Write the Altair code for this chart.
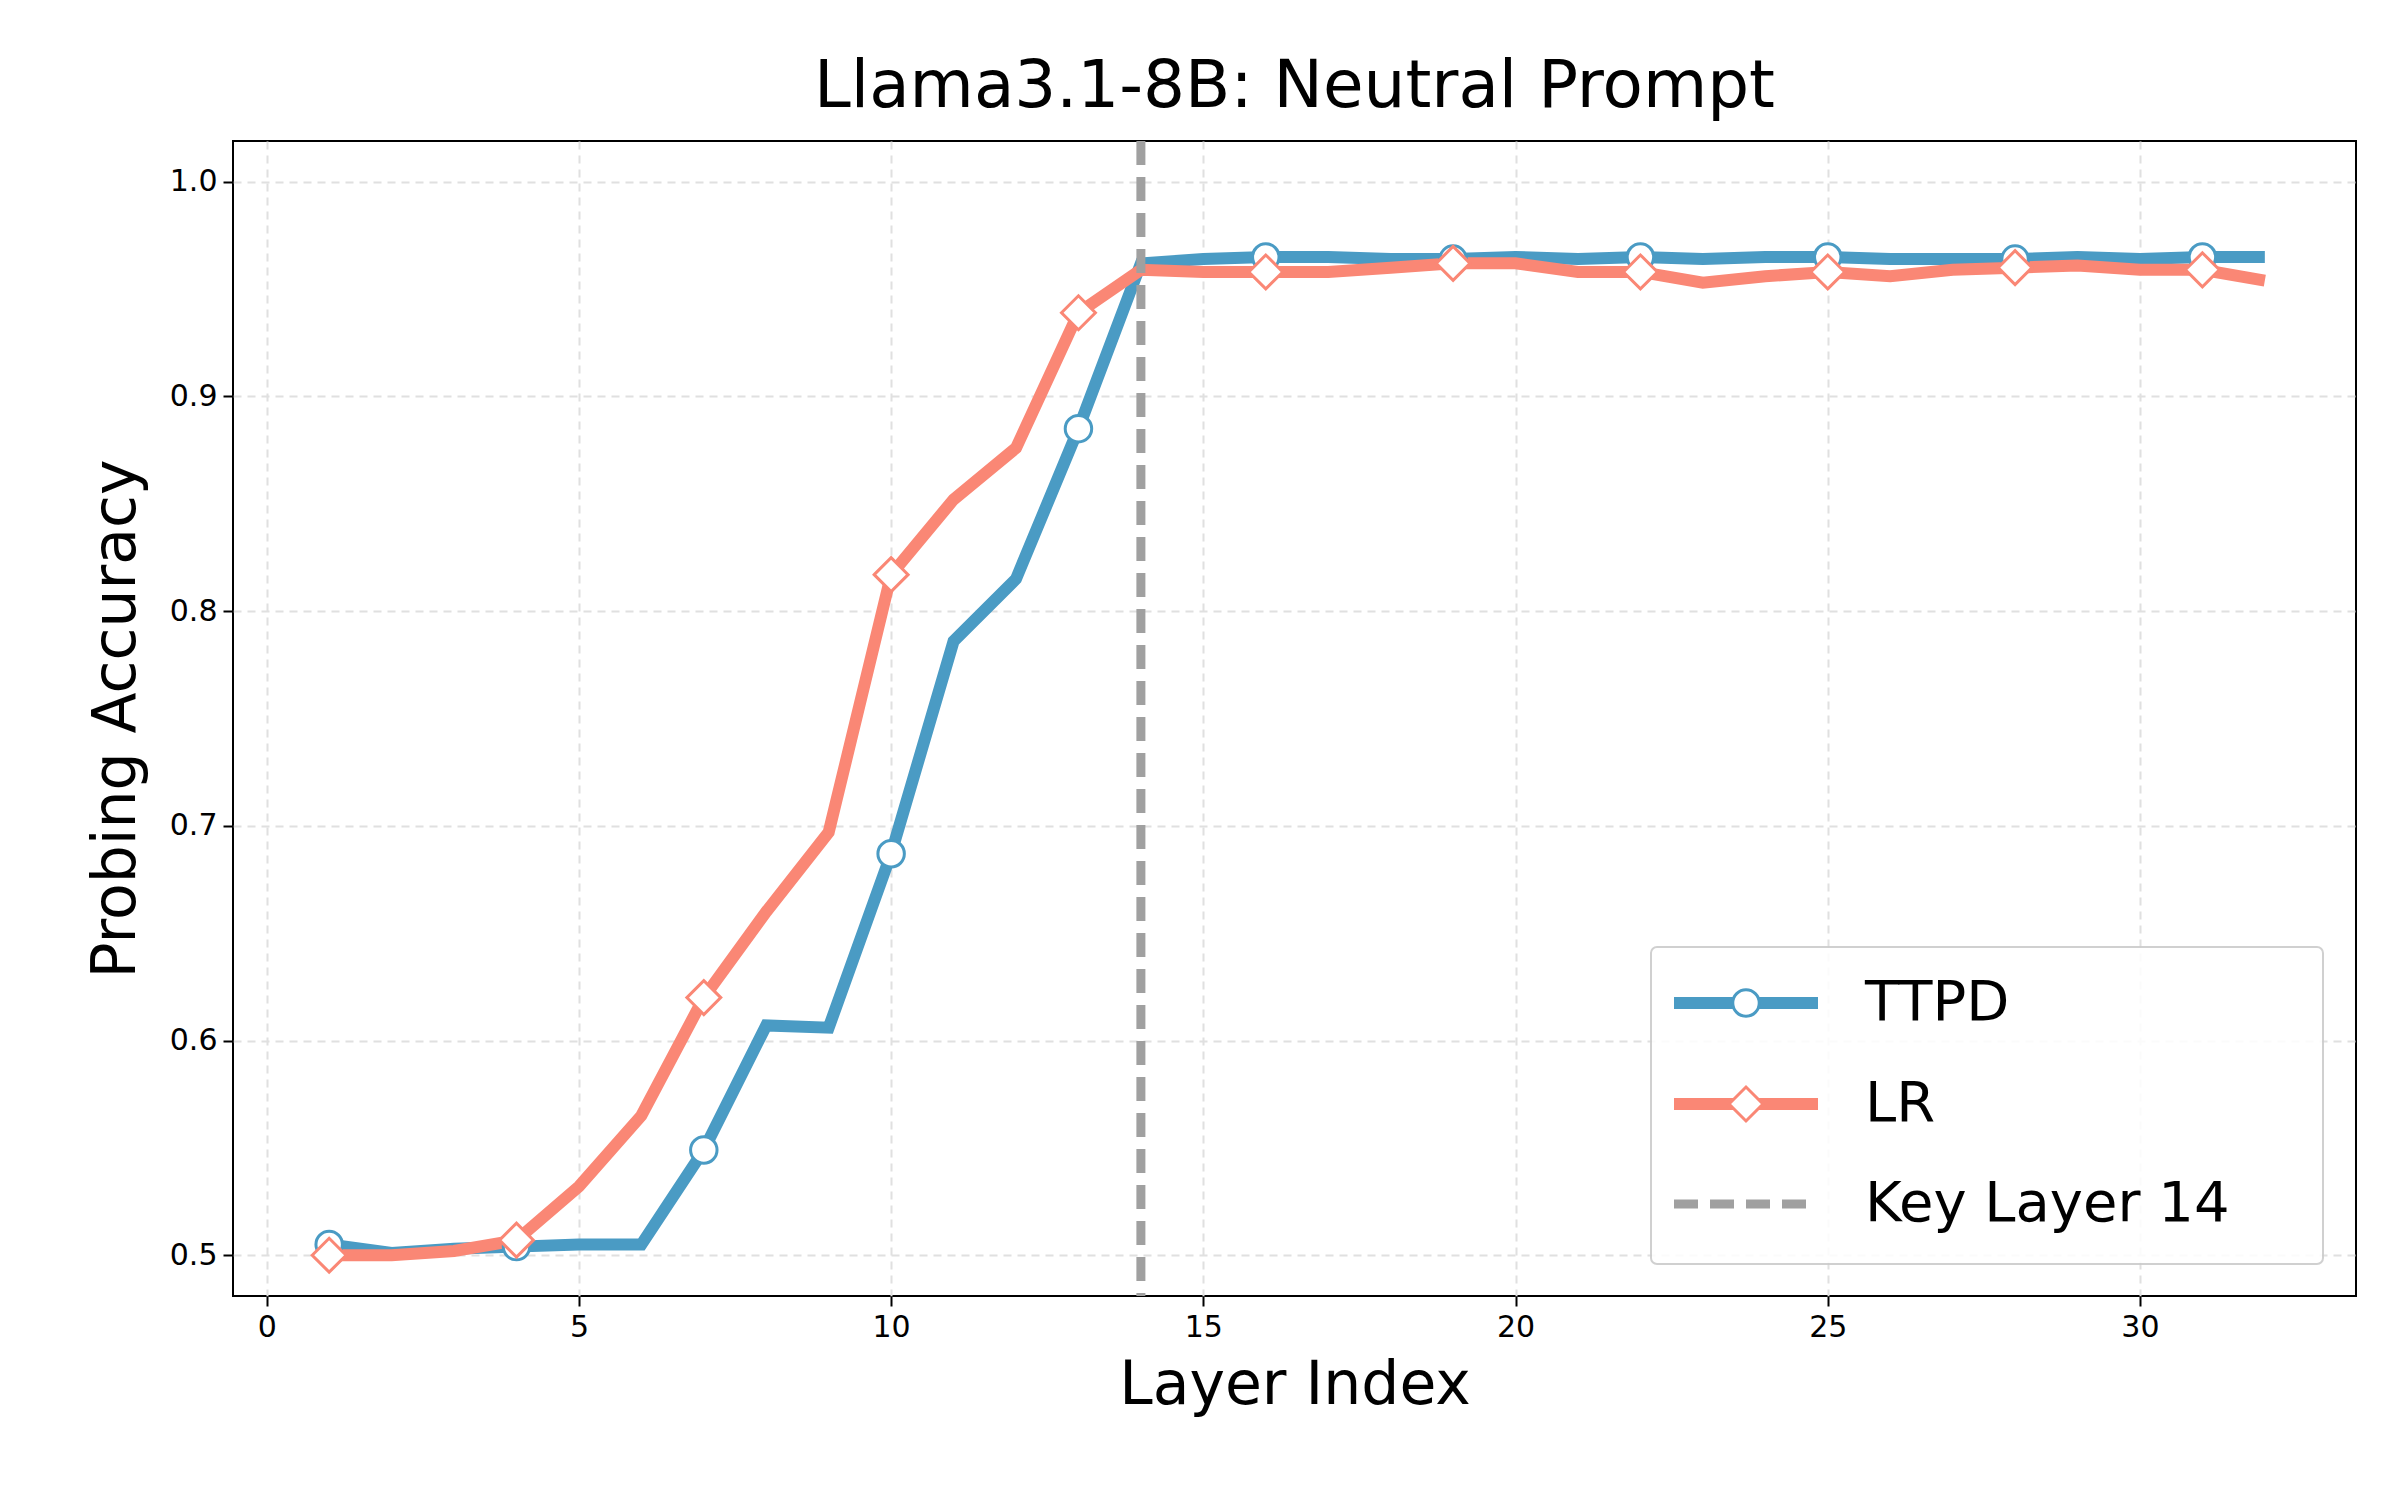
import altair as alt
import pandas as pd

# data
layers = list(range(1, 33))
ttpd = [0.505, 0.501, 0.503, 0.504, 0.505, 0.505, 0.549, 0.607, 0.606, 0.687,
        0.786, 0.815, 0.885, 0.962, 0.964, 0.965, 0.965, 0.964, 0.964, 0.965,
        0.964, 0.965, 0.964, 0.965, 0.965, 0.964, 0.964, 0.964, 0.965, 0.964,
        0.965, 0.965]
lr = [0.500, 0.500, 0.502, 0.507, 0.532, 0.565, 0.620, 0.660, 0.697, 0.817,
      0.852, 0.876, 0.939, 0.959, 0.958, 0.958, 0.958, 0.960, 0.962, 0.962,
      0.958, 0.958, 0.953, 0.956, 0.958, 0.956, 0.959, 0.960, 0.961, 0.959,
      0.959, 0.954]
marker_layers = list(range(1, 33, 3))
key_layer = 14

BLUE = "#4A9BC4"
RED = "#FA8775"
W, H = 2123, 1155

df = pd.DataFrame({"layer": layers, "TTPD": ttpd, "LR": lr})
mk = df[df["layer"].isin(marker_layers)]

x = alt.X("layer:Q", title="Layer Index", scale=alt.Scale(domain=[-0.54, 33.46], nice=False, zero=False),
          axis=alt.Axis(values=[0, 5, 10, 15, 20, 25, 30]))
yax = alt.Axis(values=[0.5, 0.6, 0.7, 0.8, 0.9, 1.0], format=".1f")
ysc = alt.Scale(domain=[0.481, 1.019], nice=False, zero=False)

base = alt.Chart(df)
l1 = base.mark_line(color=BLUE, strokeWidth=12).encode(
    x=x, y=alt.Y("TTPD:Q", title="Probing Accuracy", scale=ysc, axis=yax))
l2 = base.mark_line(color=RED, strokeWidth=12).encode(x=x, y=alt.Y("LR:Q", scale=ysc))
m1 = alt.Chart(mk).mark_point(shape="circle", filled=True, fill="white", stroke=BLUE,
                              strokeWidth=3, size=700, opacity=1).encode(x=x, y=alt.Y("TTPD:Q", scale=ysc))
m2 = alt.Chart(mk).mark_point(shape="diamond", filled=True, fill="white", stroke=RED,
                              strokeWidth=3, size=1150, opacity=1).encode(x=x, y=alt.Y("LR:Q", scale=ysc))
rule = alt.Chart(pd.DataFrame({"layer": [key_layer]})).mark_rule(
    color="#A0A0A0", strokeWidth=9, strokeDash=[24, 12]).encode(x=x)

# legend drawn by hand
leg_names = ["TTPD", "LR", "Key Layer 14"]
leg = pd.DataFrame({"name": leg_names, "yy": [862, 963, 1063]})
box = alt.Chart(pd.DataFrame({"a": [0]})).mark_rect(
    fill="white", stroke="#CCCCCC", strokeWidth=2, cornerRadius=6, opacity=0.9).encode(
    x=alt.value(1418), x2=alt.value(2090), y=alt.value(806), y2=alt.value(1123))
seg_color = alt.Color("name:N", scale=alt.Scale(domain=leg_names, range=[BLUE, RED, "#A0A0A0"]), legend=None)
segs = alt.Chart(leg[leg.name != "Key Layer 14"]).mark_rule(strokeWidth=12).encode(
    x=alt.value(1441), x2=alt.value(1585), y=alt.Y("yy:Q", scale=None), color=seg_color)
seg3 = alt.Chart(leg[leg.name == "Key Layer 14"]).mark_rule(strokeWidth=9, strokeDash=[24, 12]).encode(
    x=alt.value(1441), x2=alt.value(1585), y=alt.Y("yy:Q", scale=None), color=seg_color)
lm1 = alt.Chart(leg[leg.name == "TTPD"]).mark_point(shape="circle", filled=True, fill="white", stroke=BLUE,
                                                   strokeWidth=3, size=700, opacity=1).encode(
    x=alt.value(1513), y=alt.Y("yy:Q", scale=None))
lm2 = alt.Chart(leg[leg.name == "LR"]).mark_point(shape="diamond", filled=True, fill="white", stroke=RED,
                                                 strokeWidth=3, size=1150, opacity=1).encode(
    x=alt.value(1513), y=alt.Y("yy:Q", scale=None))
txt = alt.Chart(leg).mark_text(align="left", baseline="middle", fontSize=56, font="DejaVu Sans").encode(
    x=alt.value(1632), y=alt.Y("yy:Q", scale=None), text="name:N")

chart = alt.layer(l1, l2, m1, m2, rule, box, segs, seg3, lm1, lm2, txt).properties(
    width=W, height=H,
    padding={"left": 78, "top": 45, "right": 5, "bottom": 5},
    title=alt.TitleParams("Llama3.1-8B: Neutral Prompt", fontSize=66, font="DejaVu Sans",
                          fontWeight="normal", offset=16),
).configure_view(stroke="black", strokeWidth=2).configure_axis(
    labelFont="DejaVu Sans", titleFont="DejaVu Sans", labelFontSize=30, titleFontSize=60,
    titleFontWeight="normal", labelColor="black", titleColor="black",
    grid=True, gridDash=[8, 6], gridColor="#E0E0E0", gridWidth=2,
    domain=False, tickColor="black", tickSize=10, tickWidth=2, labelPadding=6,
).configure_axisX(titlePadding=14).configure_axisY(titlePadding=22)

chart.save("out.html", embed_options={"renderer": "svg", "actions": False})
